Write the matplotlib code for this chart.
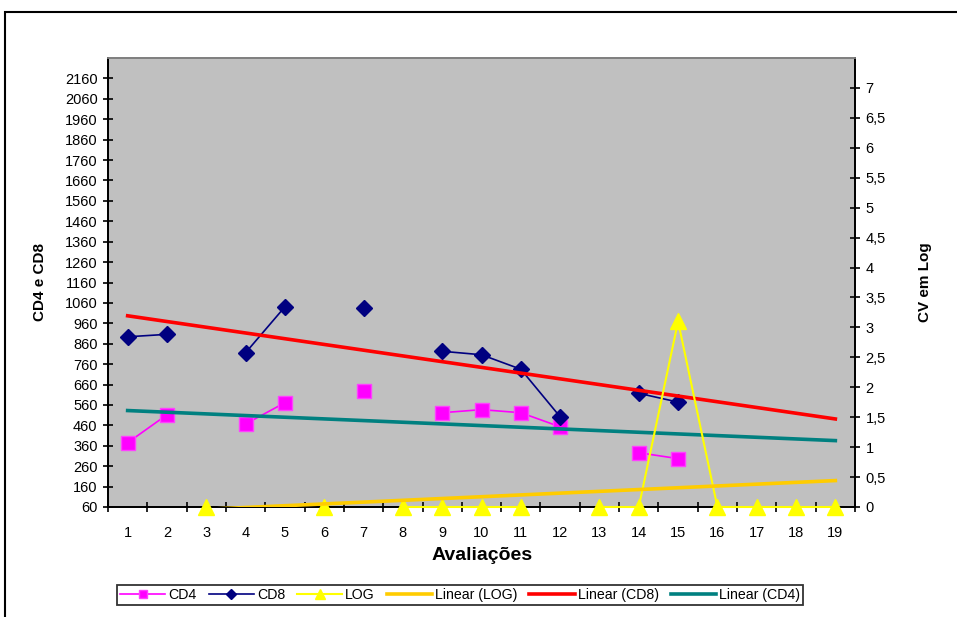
import numpy as np
import matplotlib
matplotlib.use("Agg")
import matplotlib.pyplot as plt
from matplotlib.patches import Rectangle
from matplotlib.ticker import FuncFormatter

plt.rcParams['font.family'] = ['Liberation Sans', 'DejaVu Sans']

# dados (nan = sem avaliacao)
avaliacoes = np.arange(1, 20)
cd4 = [375, 512, np.nan, 467, 571, np.nan, 630, np.nan, 522, 537, 522, 453,
       np.nan, 326, 297, np.nan, np.nan, np.nan, np.nan]
cd8 = [894, 906, np.nan, 816, 1041, np.nan, 1033, np.nan, 823, 806, 735, 502,
       np.nan, 617, 574, np.nan, np.nan, np.nan, np.nan]
log = [np.nan, np.nan, 0, np.nan, np.nan, 0, np.nan, 0, 0, 0, 0, np.nan,
       0, 0, 3.1, 0, 0, 0, 0]

left_ticks = np.arange(60, 2161, 100)
right_ticks = np.arange(0, 7.01, 0.5)


def tendencia(x, y):
    # linha de tendencia linear (como o Excel)
    y = np.asarray(y, dtype=float)
    ok = ~np.isnan(y)
    a, b = np.polyfit(x[ok], y[ok], 1)
    return a * x + b


fig = plt.figure(figsize=(9.57, 6.17), dpi=100)
ax = fig.add_axes([108 / 957, 1 - 507 / 617, 747 / 957, 449 / 617])
ax2 = ax.twinx()

ax.set_facecolor('#C0C0C0')

l_cd4, = ax.plot(avaliacoes, cd4, color='#FF00FF', lw=1.2, marker='s',
                 ms=10, mfc='#FF00FF', mec='#FF40FF', zorder=3)
l_cd8, = ax.plot(avaliacoes, cd8, color='#000080', lw=1.2, marker='D',
                 ms=8, zorder=3)
l_log, = ax2.plot(avaliacoes, log, color='#FFFF00', lw=1.5, marker='^',
                  ms=11, zorder=3, clip_on=False)

l_tlog, = ax2.plot(avaliacoes, tendencia(avaliacoes, log), color='#FFCC00',
                   lw=2.6, zorder=4)
l_tcd8, = ax.plot(avaliacoes, tendencia(avaliacoes, cd8), color='#FF0000',
                  lw=2.6, zorder=4)
l_tcd4, = ax.plot(avaliacoes, tendencia(avaliacoes, cd4), color='#008080',
                  lw=2.6, zorder=4)

ax.set_xlim(0.5, 19.5)
ax.set_ylim(60, 2260)
ax2.set_ylim(0, 7.5)

ax.set_xticks(avaliacoes)
ax.set_xticks(np.arange(0.5, 19.6, 1), minor=True)
ax.tick_params(axis='x', which='major', length=0, pad=14, labelsize=10.5)
ax.tick_params(axis='x', which='minor', length=7, width=1.2, direction='inout')
ax.set_yticks(left_ticks)
ax.tick_params(axis='y', length=7, width=1.2, direction='inout', labelsize=10.5, pad=4)
ax2.set_yticks(right_ticks)
ax2.yaxis.set_major_formatter(FuncFormatter(lambda v, p: ('%g' % v).replace('.', ',')))
ax2.tick_params(axis='y', length=7, width=1.2, direction='inout', labelsize=10.5, pad=4)

for a in (ax, ax2):
    for s in ('left', 'right', 'bottom'):
        a.spines[s].set_linewidth(1.3)
        a.spines[s].set_color('black')
    a.spines['top'].set_color('#808080')
    a.spines['top'].set_linewidth(1.3)

fig.text(40 / 957, 1 - 282 / 617, 'CD4 e CD8', rotation=90, ha='center',
         va='center', fontsize=11, fontweight='bold')
fig.text(925 / 957, 1 - 282 / 617, 'CV em Log', rotation=90, ha='center',
         va='center', fontsize=11, fontweight='bold')
fig.text(482 / 957, 1 - 556 / 617, 'Avaliações', ha='center', va='center',
         fontsize=14, fontweight='bold')

leg = fig.legend([l_cd4, l_cd8, l_log, l_tlog, l_tcd8, l_tcd4],
                 ['CD4', 'CD8', 'LOG', 'Linear (LOG)', 'Linear (CD8)', 'Linear (CD4)'],
                 loc='center', bbox_to_anchor=(460 / 957, 1 - 595 / 617), ncol=6,
                 fontsize=10.2, frameon=True, fancybox=False, edgecolor='black',
                 handlelength=3.2, handletextpad=0.2, columnspacing=0.85,
                 borderpad=0.2, markerscale=0.6)
leg.get_frame().set_linewidth(1.3)

fig.patches.append(Rectangle((5 / 957, -0.1), 1.2, 1.1 - 12 / 617,
                             transform=fig.transFigure, fill=False,
                             edgecolor='black', lw=1.5))

fig.savefig('out.png', dpi=100)
